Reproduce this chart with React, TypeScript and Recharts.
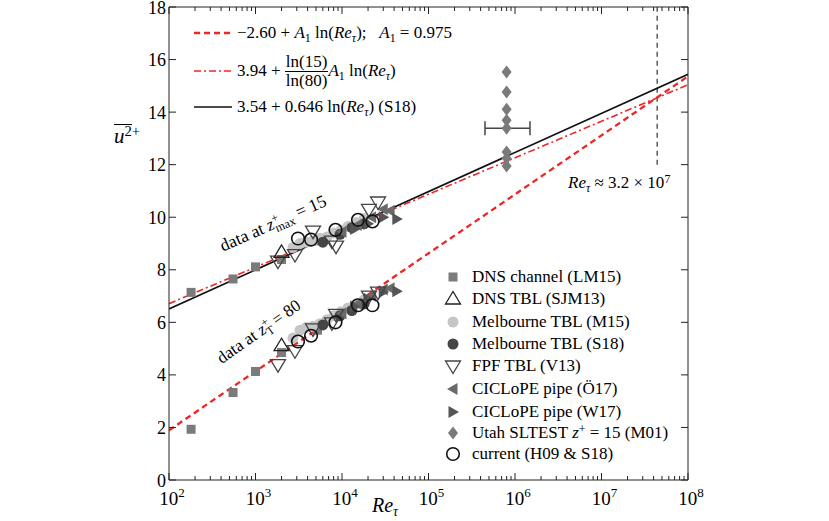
import React from "react";
import {
  ComposedChart,
  ErrorBar,
  Line,
  ReferenceLine,
  Scatter,
  XAxis,
  YAxis
} from "recharts";

const serif = "'Liberation Serif', 'DejaVu Serif', serif";
const red = "#ef2626";
const ink = "#222";

// chart box
const W = 829;
const H = 521;
const M = { top: 7, right: 141, bottom: 0, left: 109 };
const Y_AXIS_W = 60;
const X_AXIS_H = 41;
const plotW = W - M.left - M.right - Y_AXIS_W;
const plotH = H - M.top - M.bottom - X_AXIS_H;

// axes
const decades = [1e2, 1e3, 1e4, 1e5, 1e6, 1e7, 1e8];
const minorSteps = [1, 2, 3, 4, 5, 6, 7, 8, 9];
const xTicks = decades.flatMap((d, i) =>
  i === decades.length - 1 ? [d] : minorSteps.map((k) => k * d)
);
const yTicks = [0, 2, 4, 6, 8, 10, 12, 14, 16, 18];

// fitted lines, end values
const fitRe = [1e2, 1e8];
const fitDashed = [1.89, 15.36];
const fitDashDot = [6.71, 15.04];
const fitS18 = [6.51, 15.44];

// DNS channel (LM15)
const lm15Re = [180, 550, 1000, 2000, 5200];
const lm15Upper = [7.14, 7.65, 8.11, 8.39, 9.1];
const lm15Lower = [1.93, 3.33, 4.13, 4.85, 5.7];

// DNS TBL (SJM13)
const sjmRe = [2000];
const sjmUpper = [8.66];
const sjmLower = [5.11];

// Melbourne TBL (M15)
const m15Re = [2715, 3270, 3835, 4620, 5570, 6710, 8080, 9730, 11730, 14500, 17950];
const m15Upper = [8.85, 9.0, 9.05, 9.1, 9.2, 9.25, 9.4, 9.5, 9.65, 9.8, 9.95];
const m15Lower = [5.4, 5.7, 5.8, 5.85, 5.95, 6.1, 6.25, 6.4, 6.55, 6.7, 6.85];

// Melbourne TBL (S18)
const s18Re = [6000, 9500, 13000, 18000];
const s18Upper = [9.05, 9.35, 9.6, 9.75];
const s18Lower = [5.9, 6.25, 6.45, 6.7];

// FPF TBL (V13)
const v13Re = [1820, 2860, 4620, 7660, 8530, 20500, 26100];
const v13Upper = [8.33, 8.58, 9.47, 9.09, 8.9, 10.3, 10.58];
const v13Lower = [4.39, 4.92, 5.75, 5.98, 6.3, 7.0, 7.15];

// CICLoPE pipe (Ö17)
const o17Re = [10000, 15000, 22000, 30000, 36000];
const o17Upper = [9.45, 9.7, 10.0, 10.3, 10.25];
const o17Lower = [6.35, 6.7, 7.0, 7.25, 7.3];

// CICLoPE pipe (W17)
const w17Re = [14000, 20000, 30000, 43000];
const w17Upper = [9.55, 9.75, 10.0, 9.93];
const w17Lower = [6.6, 6.9, 7.15, 7.18];

// Utah SLTEST (M01)
const utahRe = [8e5, 8e5, 8e5, 8e5, 8e5, 8e5, 8e5, 8e5];
const utahY = [15.53, 14.77, 14.11, 13.69, 13.39, 12.48, 12.24, 11.95];
const utahBarY = 13.39;
const utahBarRange = [4.5e5, 1.49e6];

// current (H09 & S18)
const curRe = [3100, 4390, 8410, 15300, 22500];
const curUpper = [9.19, 9.15, 9.52, 9.9, 9.84];
const curLower = [5.27, 5.49, 6.0, 6.65, 6.65];

const refRe = 4.4e7;

const pts = (re: number[], ys: number[]) => re.map((x, i) => ({ x, y: ys[i] }));
const both = (re: number[], a: number[], b: number[]) => [...pts(re, a), ...pts(re, b)];

type Kind = "square" | "triUp" | "triDown" | "triLeft" | "triRight" | "light" | "dark" | "diamond" | "ring";

function Marker({ kind, cx, cy }: { kind: Kind; cx: number; cy: number }) {
  switch (kind) {
    case "square":
      return <rect x={cx - 4.5} y={cy - 4.5} width={9} height={9} fill="#7b7b7b" />;
    case "light":
      return <circle cx={cx} cy={cy} r={5.5} fill="#c6c6c6" />;
    case "dark":
      return <circle cx={cx} cy={cy} r={5.5} fill="#454545" />;
    case "triUp":
      return (
        <polygon
          points={`${cx},${cy - 7.5} ${cx - 7.5},${cy + 5} ${cx + 7.5},${cy + 5}`}
          fill="none"
          stroke="#222"
          strokeWidth={1.3}
        />
      );
    case "triDown":
      return (
        <polygon
          points={`${cx},${cy + 7.5} ${cx - 7.5},${cy - 5} ${cx + 7.5},${cy - 5}`}
          fill="none"
          stroke="#444"
          strokeWidth={1.3}
        />
      );
    case "triLeft":
      return <polygon points={`${cx - 6},${cy} ${cx + 4.5},${cy - 6} ${cx + 4.5},${cy + 6}`} fill="#6a6a6a" />;
    case "triRight":
      return <polygon points={`${cx + 6},${cy} ${cx - 4.5},${cy - 6} ${cx - 4.5},${cy + 6}`} fill="#555" />;
    case "diamond":
      return <polygon points={`${cx},${cy - 6.5} ${cx + 5},${cy} ${cx},${cy + 6.5} ${cx - 5},${cy}`} fill="#7a7a7a" />;
    case "ring":
      return <circle cx={cx} cy={cy} r={6.3} fill="none" stroke="#111" strokeWidth={1.6} />;
  }
  return null;
}

const shape = (kind: Kind) => (p: any) => <Marker kind={kind} cx={p.cx} cy={p.cy} />;

const isMajor = (v: number) => Math.abs(Math.log10(v) - Math.round(Math.log10(v))) < 1e-6;

// bottom ticks also draw the matching tick on the top frame
function BottomTick(p: any) {
  const v = p.payload.value;
  const major = isMajor(v);
  const len = major ? 7 : 4;
  const top = p.y - plotH;
  return (
    <g>
      <line x1={p.x} x2={p.x} y1={p.y} y2={p.y - len} stroke={ink} />
      <line x1={p.x} x2={p.x} y1={top} y2={top + len} stroke={ink} />
      {major && (
        <text x={p.x + 3} y={p.y + 25} textAnchor="middle" fontFamily={serif} fontSize={19} fill="#000">
          10
          <tspan dy={-8} fontSize={13}>
            {Math.round(Math.log10(v))}
          </tspan>
        </text>
      )}
    </g>
  );
}

// left ticks also draw the matching tick on the right frame
function LeftTick(p: any) {
  const right = p.x + plotW;
  return (
    <g>
      <line x1={p.x} x2={p.x + 7} y1={p.y} y2={p.y} stroke={ink} />
      <line x1={right} x2={right - 7} y1={p.y} y2={p.y} stroke={ink} />
      <text x={p.x - 3} y={p.y + 6.5} textAnchor="end" fontFamily={serif} fontSize={18} fill="#000">
        {p.payload.value}
      </text>
    </g>
  );
}

const sub = { fontSize: "0.7em", verticalAlign: "-0.3em", lineHeight: 0 } as const;
const sup = { fontSize: "0.7em", verticalAlign: "0.45em", lineHeight: 0 } as const;

const ReTau = () => (
  <span>
    <i>Re</i>
    <i style={sub}>τ</i>
  </span>
);
const A1 = () => (
  <span>
    <i>A</i>
    <span style={sub}>1</span>
  </span>
);

function LineSample({ dash, color, width }: { dash?: string; color: string; width: number }) {
  return (
    <svg width={38} height={10} style={{ position: "absolute", left: 0, top: -5 }}>
      <line x1={0} x2={38} y1={5} y2={5} stroke={color} strokeWidth={width} strokeDasharray={dash} />
    </svg>
  );
}

// superscript "+" stacked over a subscript
function Stack({ bottom }: { bottom: string }) {
  return (
    <>
      <span style={{ ...sup, display: "inline-block", width: 0, verticalAlign: "0.5em" }}>+</span>
      <span style={{ ...sub, verticalAlign: "-0.35em" }}>{bottom}</span>
    </>
  );
}

const legendRows: { kind: Kind; label: React.ReactNode }[] = [
  { kind: "square", label: "DNS channel (LM15)" },
  { kind: "triUp", label: "DNS TBL (SJM13)" },
  { kind: "light", label: "Melbourne TBL (M15)" },
  { kind: "dark", label: "Melbourne TBL (S18)" },
  { kind: "triDown", label: "FPF TBL (V13)" },
  { kind: "triLeft", label: "CICLoPE pipe (Ö17)" },
  { kind: "triRight", label: "CICLoPE pipe (W17)" },
  {
    kind: "diamond",
    label: (
      <span>
        Utah SLTEST <i>z</i>
        <span style={sup}>+</span> = 15 (M01)
      </span>
    )
  },
  { kind: "ring", label: "current (H09 & S18)" }
];
const legendRowY = [277, 299, 322, 344, 366, 389, 412, 433, 454];

export default function App() {
  const fitRows = (ys: number[]) => pts(fitRe, ys);
  return (
    <div style={{ position: "fixed", left: 0, top: 0, width: W, height: H, background: "#fff", fontFamily: serif }}>
      <ComposedChart width={W} height={H} margin={M}>
        <XAxis
          dataKey="x"
          type="number"
          scale="log"
          domain={[1e2, 1e8]}
          allowDataOverflow
          ticks={xTicks}
          interval={0}
          height={X_AXIS_H}
          tickSize={0}
          tickMargin={0}
          tickLine={false}
          axisLine={{ stroke: ink }}
          tick={(p: any) => <BottomTick {...p} />}
        />
        <YAxis
          dataKey="y"
          type="number"
          domain={[0, 18]}
          allowDataOverflow
          ticks={yTicks}
          interval={0}
          width={Y_AXIS_W}
          tickSize={0}
          tickMargin={0}
          tickLine={false}
          axisLine={{ stroke: ink }}
          tick={(p: any) => <LeftTick {...p} />}
        />

        <ReferenceLine y={18} stroke={ink} />
        <ReferenceLine x={1e8} stroke={ink} />
        <ReferenceLine
          segment={[
            { x: refRe, y: 12 },
            { x: refRe, y: 18 }
          ]}
          stroke="#333"
          strokeWidth={1.2}
          strokeDasharray="5 4"
        />

        <Line data={fitRows(fitS18)} dataKey="y" stroke="#111" strokeWidth={1.6} dot={false} isAnimationActive={false} />
        <Line data={fitRows(fitDashDot)} dataKey="y" stroke={red} strokeWidth={1.6} strokeDasharray="7 3 2 3" dot={false} isAnimationActive={false} />
        <Line data={fitRows(fitDashed)} dataKey="y" stroke={red} strokeWidth={2.3} strokeDasharray="6 4" dot={false} isAnimationActive={false} />

        <Scatter data={both(lm15Re, lm15Upper, lm15Lower)} dataKey="y" shape={shape("square")} isAnimationActive={false} />
        <Scatter data={both(m15Re, m15Upper, m15Lower)} dataKey="y" shape={shape("light")} isAnimationActive={false} />
        <Scatter data={both(s18Re, s18Upper, s18Lower)} dataKey="y" shape={shape("dark")} isAnimationActive={false} />
        <Scatter data={both(o17Re, o17Upper, o17Lower)} dataKey="y" shape={shape("triLeft")} isAnimationActive={false} />
        <Scatter data={both(w17Re, w17Upper, w17Lower)} dataKey="y" shape={shape("triRight")} isAnimationActive={false} />
        <Scatter data={both(v13Re, v13Upper, v13Lower)} dataKey="y" shape={shape("triDown")} isAnimationActive={false} />
        <Scatter data={both(sjmRe, sjmUpper, sjmLower)} dataKey="y" shape={shape("triUp")} isAnimationActive={false} />
        <Scatter data={pts(utahRe, utahY)} dataKey="y" shape={shape("diamond")} isAnimationActive={false} />
        <Scatter
          data={[{ x: utahRe[0], y: utahBarY, err: [utahRe[0] - utahBarRange[0], utahBarRange[1] - utahRe[0]] }]}
          dataKey="y"
          shape={() => <g />}
          isAnimationActive={false}
        >
          <ErrorBar dataKey="err" direction="x" width={7} stroke="#444" strokeWidth={1.5} isAnimationActive={false} />
        </Scatter>
        <Scatter data={both(curRe, curUpper, curLower)} dataKey="y" shape={shape("ring")} isAnimationActive={false} />
      </ComposedChart>

      {/* line legend */}
      <div style={{ position: "absolute", left: 194, top: 0, fontSize: 17, whiteSpace: "nowrap" }}>
        <div style={{ position: "absolute", top: 33 }}>
          <LineSample dash="6 4" color={red} width={2.3} />
          <span style={{ position: "absolute", left: 43, top: -11, lineHeight: "22px" }}>
            −2.60 + <A1 /> ln(<ReTau />);&nbsp;&nbsp; <A1 /> = 0.975
          </span>
        </div>
        <div style={{ position: "absolute", top: 71 }}>
          <LineSample dash="7 3 2 3" color={red} width={1.6} />
          <span style={{ position: "absolute", left: 43, top: -19, height: 38, display: "flex", alignItems: "center" }}>
            <span>3.94 +&nbsp;</span>
            <span style={{ display: "inline-flex", flexDirection: "column", alignItems: "center", lineHeight: "18px" }}>
              <span style={{ borderBottom: "1px solid #000", padding: "0 1px" }}>ln(15)</span>
              <span>ln(80)</span>
            </span>
            <span>
              <A1 /> ln(<ReTau />)
            </span>
          </span>
        </div>
        <div style={{ position: "absolute", top: 107 }}>
          <LineSample color="#111" width={1.6} />
          <span style={{ position: "absolute", left: 43, top: -11, lineHeight: "22px" }}>
            3.54 + 0.646 ln(<ReTau />) (S18)
          </span>
        </div>
      </div>

      {/* marker legend */}
      {legendRows.map((r, i) => (
        <div key={i} style={{ position: "absolute", left: 443, top: legendRowY[i] - 11, height: 22, fontSize: 17, whiteSpace: "nowrap" }}>
          <svg width={20} height={22} style={{ position: "absolute", left: 0, top: 0 }}>
            <Marker kind={r.kind} cx={10} cy={11} />
          </svg>
          <span style={{ position: "absolute", left: 29, top: 0, lineHeight: "22px" }}>{r.label}</span>
        </div>
      ))}

      {/* annotations */}
      <div
        style={{
          position: "absolute",
          left: 273,
          top: 223,
          fontSize: 17.5,
          lineHeight: "22px",
          whiteSpace: "nowrap",
          transform: "translate(-50%, -50%) rotate(-24deg)"
        }}
      >
        data at <i>z</i>
        <Stack bottom="max" /> = 15
      </div>
      <div
        style={{
          position: "absolute",
          left: 259,
          top: 332,
          fontSize: 17,
          lineHeight: "22px",
          whiteSpace: "nowrap",
          transform: "translate(-50%, -50%) rotate(-35deg)"
        }}
      >
        data at <i>z</i>
        <Stack bottom="T" /> = 80
      </div>
      <div style={{ position: "absolute", left: 568, top: 172, fontSize: 17, whiteSpace: "nowrap", lineHeight: "22px" }}>
        <ReTau /> ≈ 3.2 × 10<span style={sup}>7</span>
      </div>

      {/* axis titles */}
      <div style={{ position: "absolute", left: 114, top: 124, fontSize: 21, whiteSpace: "nowrap", lineHeight: "24px" }}>
        <span style={{ display: "inline-block", borderTop: "1.4px solid #000", lineHeight: "20px", paddingTop: 1 }}>
          <i>u</i>
          <span style={sup}>2</span>
        </span>
        <span style={sup}>+</span>
      </div>
      <div style={{ position: "absolute", left: 372, top: 494, fontSize: 20, whiteSpace: "nowrap", lineHeight: "22px" }}>
        <ReTau />
      </div>
    </div>
  );
}
